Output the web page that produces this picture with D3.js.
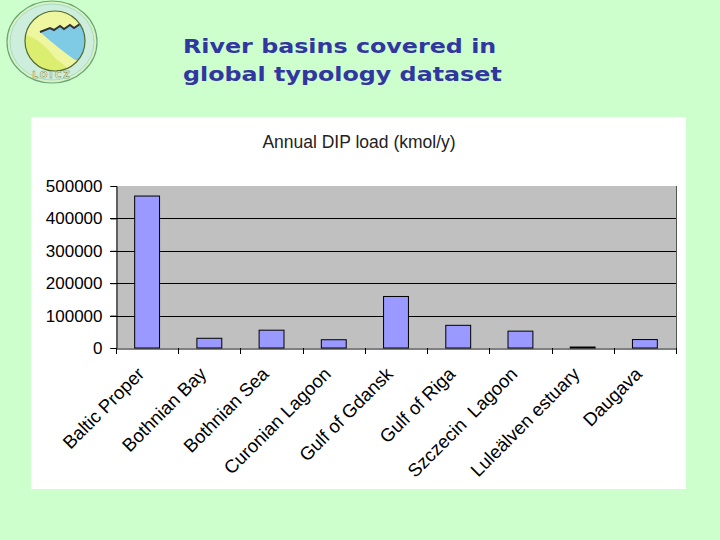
<!DOCTYPE html>
<html><head><meta charset="utf-8">
<script src="https://cdn.jsdelivr.net/npm/d3@7"></script>
<style>body{margin:0;background:#CCFFCC;} svg{display:block;}</style>
</head><body>
<script>
const categories = ["Baltic Proper","Bothnian Bay","Bothnian Sea","Curonian Lagoon","Gulf of Gdansk","Gulf of Riga","Szczecin  Lagoon","Luleälven estuary","Daugava"];
const dipLoad = [469000, 30000, 55000, 25500, 159000, 70000, 52000, 3000, 26000];
const yTicks = [0, 100000, 200000, 300000, 400000, 500000];
const titleLines = ["River basins covered in", "global typology dataset"];
const chartTitle = "Annual DIP load (kmol/y)";

const W = 720, H = 540;
const svg = d3.select("body").append("svg").attr("width", W).attr("height", H);
svg.append("rect").attr("width", W).attr("height", H).attr("fill", "#CCFFCC");

// Logo (decorative)
const logo = svg.append("g");
logo.append("ellipse").attr("cx", 52).attr("cy", 42).attr("rx", 45).attr("ry", 41)
  .attr("fill", "#d9f2c0").attr("stroke", "#6aa67a").attr("stroke-width", 1.2);
logo.append("ellipse").attr("cx", 52).attr("cy", 42).attr("rx", 42).attr("ry", 38)
  .attr("fill", "#cdeedc").attr("stroke", "#a6dcc6").attr("stroke-width", 1);
const defs = svg.append("defs");
defs.append("clipPath").attr("id", "inner").append("circle").attr("cx", 55).attr("cy", 41).attr("r", 30);
const inner = logo.append("g").attr("clip-path", "url(#inner)");
inner.append("rect").attr("x", 20).attr("y", 8).attr("width", 70).attr("height", 70).attr("fill", "#eef6a0");
inner.append("path").attr("d", "M40,32 L50,28 L54,30 L60,26 L64,29 L70,25 L74,28 L80,24 L90,24 L90,60 L75,60 Q58,48 40,32 Z").attr("fill", "#7fcbe6");
inner.append("path").attr("d", "M40,32 L50,28 L54,30 L60,26 L64,29 L70,25 L74,28 L80,24 L90,24").attr("fill", "none").attr("stroke", "#333").attr("stroke-width", 2);
inner.append("path").attr("d", "M25,35 Q40,38 55,58 L70,70 L25,72 Z").attr("fill", "#dcee70");
logo.append("circle").attr("cx", 55).attr("cy", 41).attr("r", 30).attr("fill", "none").attr("stroke", "#556b2f").attr("stroke-width", 1.2);
logo.append("text").attr("x", 52).attr("y", 78).attr("text-anchor", "middle")
  .attr("font-family", "DejaVu Sans, sans-serif").attr("font-size", 9).attr("font-weight", "bold")
  .attr("fill", "#f4f7d0").attr("stroke", "#7a8a50").attr("stroke-width", 0.5).attr("letter-spacing", 2).text("LOICZ");

// Slide title
svg.append("g").selectAll("text").data(titleLines).join("text")
  .attr("transform", (d, i) => `translate(183,${53 + i * 28}) scale(1.22,1)`)
  .attr("font-family", "DejaVu Sans, Verdana, sans-serif").attr("font-weight", "bold")
  .attr("font-size", 19.5).attr("fill", "#3236a0").text(d => d);

// Chart area
svg.append("rect").attr("x", 31).attr("y", 117).attr("width", 655).attr("height", 372).attr("fill", "#ffffff");

const L = 116, R = 676, T = 186, B = 348;
const x = d3.scaleBand().domain(categories).range([L, R]).paddingInner(0.6).paddingOuter(0.3);
const xb = d3.scaleBand().domain(categories).range([L, R]);
const y = d3.scaleLinear().domain([0, 500000]).range([B, T]);

svg.append("rect").attr("x", L).attr("y", T).attr("width", R - L).attr("height", B - T).attr("fill", "#C0C0C0");

// gridlines
svg.append("g").selectAll("line").data(yTicks.filter(v => v > 0 && v < 500000)).join("line")
  .attr("x1", L - 6).attr("x2", R).attr("y1", d => Math.round(y(d)) + 0.5).attr("y2", d => Math.round(y(d)) + 0.5)
  .attr("stroke", "#000").attr("stroke-width", 1);

// right border of plot
svg.append("line").attr("x1", R + 0.5).attr("x2", R + 0.5).attr("y1", T).attr("y2", B).attr("stroke", "#555");

// bars
svg.append("g").selectAll("rect").data(dipLoad).join("rect")
  .attr("x", (d, i) => x(categories[i]))
  .attr("y", d => y(d))
  .attr("width", x.bandwidth())
  .attr("height", d => B - y(d))
  .attr("fill", "#9999FF").attr("stroke", "#000").attr("stroke-width", 1);

// y axis
const yAxis = d3.axisLeft(y).tickValues(yTicks).tickSize(6).tickFormat(d3.format("d"));
const gy = svg.append("g").attr("transform", `translate(${L + 0.5},0)`).call(yAxis);
gy.select(".domain").attr("stroke", "#000");
gy.selectAll(".tick line").attr("stroke", "#000");
gy.selectAll(".tick text").attr("font-family", "Liberation Sans, Arial, sans-serif").attr("font-size", 17)
  .attr("fill", "#000").attr("x", -14);

// x axis
const xAxis = d3.axisBottom(xb).tickSize(0).tickFormat("");
const gx = svg.append("g").attr("transform", `translate(0,${B + 0.5})`).call(xAxis);
gx.select(".domain").attr("stroke", "#000");
svg.append("g").selectAll("line").data(d3.range(categories.length + 1)).join("line")
  .attr("x1", i => Math.round(L + i * xb.step()) + 0.5).attr("x2", i => Math.round(L + i * xb.step()) + 0.5)
  .attr("y1", B).attr("y2", B + 6).attr("stroke", "#000");

// category labels
svg.append("g").selectAll("text").data(categories).join("text")
  .attr("transform", d => `translate(${xb(d) + xb.bandwidth() / 2 - 11},${B + 18}) rotate(-45)`)
  .attr("text-anchor", "end").attr("dy", "0.7em")
  .attr("font-family", "Liberation Sans, Arial, sans-serif").attr("font-size", 18.5).attr("fill", "#000")
  .style("white-space", "pre")
  .text(d => d);

// chart title
svg.append("text").attr("x", 359).attr("y", 148).attr("text-anchor", "middle")
  .attr("font-family", "Liberation Sans, Arial, sans-serif").attr("font-size", 17.5).attr("fill", "#222")
  .text(chartTitle);
</script>
</body></html>
